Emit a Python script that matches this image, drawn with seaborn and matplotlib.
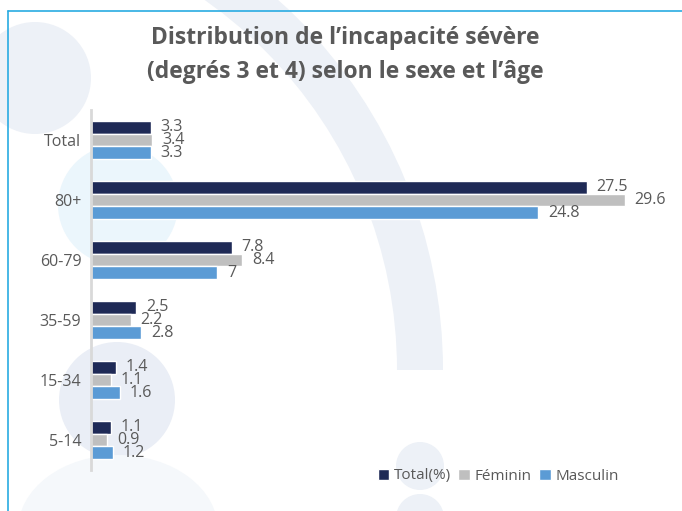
import pandas as pd
import numpy as np
import matplotlib.pyplot as plt
import seaborn as sns
from matplotlib.patches import Circle, Wedge, Ellipse

# données
ages = ['Total', '80+', '60-79', '35-59', '15-34', '5-14']
total_pct = [3.3, 27.5, 7.8, 2.5, 1.4, 1.1]
feminin = [3.4, 29.6, 8.4, 2.2, 1.1, 0.9]
masculin = [3.3, 24.8, 7.0, 2.8, 1.6, 1.2]
series = ['Total(%)', 'Féminin', 'Masculin']
couleurs = ['#1F2A56', '#BFBFBF', '#5B9BD5']

df = pd.DataFrame({
    'age': ages * 3,
    'serie': [series[0]] * 6 + [series[1]] * 6 + [series[2]] * 6,
    'valeur': total_pct + feminin + masculin,
})

sns.set_style('white')
plt.rcParams['font.family'] = ['Open Sans', 'DejaVu Sans']
gris = '#595959'

W, H = 682, 511
fig = plt.figure(figsize=(W / 100, H / 100), dpi=100)
fig.patch.set_facecolor('white')

def fx(x):
    return x / W
def fy(y):
    return 1 - y / H

# axe de fond en pixels pour le décor pâle
bg = fig.add_axes([0, 0, 1, 1], zorder=-1)
bg.set_xlim(0, W)
bg.set_ylim(H, 0)
bg.axis('off')
bg.add_patch(Wedge((-55, 370), 498, 270, 360, width=46, color='#EDF1F7', lw=0))
bg.add_patch(Circle((35, 78), 56, color='#EDF1F7', lw=0))
bg.add_patch(Circle((118, 205), 60, color='#EBF6FC', lw=0))
bg.add_patch(Circle((117, 400), 58, color='#EAEEF6', lw=0))
bg.add_patch(Ellipse((118, 530), 200, 150, color='#F5F8FB', lw=0))
bg.add_patch(Circle((420, 466), 24, color='#EDF1F7', lw=0))
bg.add_patch(Circle((420, 518), 24, color='#EDF1F7', lw=0))
# cadre bleu clair
bg.plot([8, W], [11, 11], color='#29ABE2', lw=1.2)
bg.plot([8, 8], [11, H], color='#29ABE2', lw=1.2)

ax = fig.add_axes([fx(91), fy(470), (668 - 91) / W, (470 - 110) / H])
ax.patch.set_alpha(0)

sns.barplot(data=df, y='age', x='valeur', hue='serie', order=ages,
            hue_order=series, palette=couleurs, saturation=1, orient='h',
            width=0.63, ax=ax, legend=True)

for c in ax.containers:
    ax.bar_label(c, labels=[f'{v:g}' for v in c.datavalues], padding=7,
                 fontsize=11.5, color=gris)

ax.set_xlim(0, 32)
ax.set_xlabel('')
ax.set_ylabel('')
ax.set_xticks([])
ax.tick_params(axis='y', length=0, labelsize=11.5, labelcolor=gris, pad=7)
for s in ['top', 'right', 'bottom']:
    ax.spines[s].set_visible(False)
ax.spines['left'].set_color('#D9D9D9')
ax.spines['left'].set_linewidth(2)

ax.legend(loc='center left', bbox_to_anchor=(fx(370), fy(476)),
          bbox_transform=fig.transFigure, ncol=3, frameon=False,
          fontsize=11, labelcolor=gris, handlelength=0.75, handleheight=0.75,
          handletextpad=0.3, columnspacing=0.5, borderpad=0)

fig.text(fx(345), fy(38), 'Distribution de l\u2019incapacité sévère',
         ha='center', va='center', fontsize=16.5, fontweight='bold', color=gris)
fig.text(fx(345), fy(72), '(degrés 3 et 4) selon le sexe et l\u2019âge',
         ha='center', va='center', fontsize=16.5, fontweight='bold', color=gris)

fig.savefig('out.png', dpi=100)
